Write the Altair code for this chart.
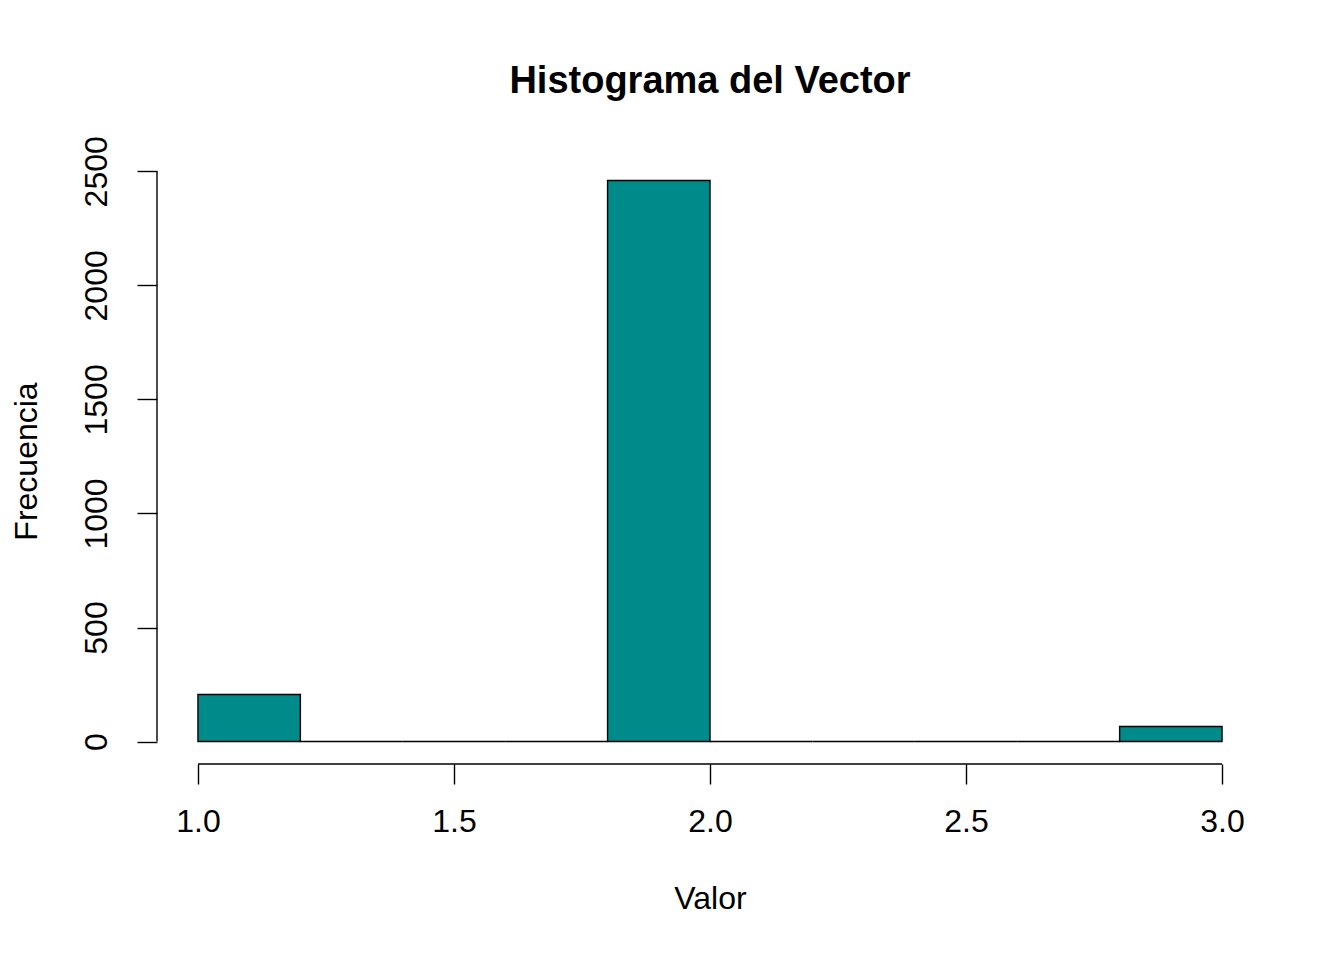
import altair as alt
import pandas as pd

# Histogram data
bin_start = [1.0, 1.2, 1.4, 1.6, 1.8, 2.0, 2.2, 2.4, 2.6, 2.8]
bin_end = [1.2, 1.4, 1.6, 1.8, 2.0, 2.2, 2.4, 2.6, 2.8, 3.0]
counts = [206, 0, 0, 0, 2460, 0, 0, 0, 0, 66]
x_ticks = [1.0, 1.5, 2.0, 2.5, 3.0]
y_ticks = [0, 500, 1000, 1500, 2000, 2500]

df = pd.DataFrame({"start": bin_start, "end": bin_end, "count": counts})

W, H = 1106, 606
FONT = "Liberation Sans"
LW = 1.4
FS = 32

xscale = alt.Scale(domain=[0.92, 3.08], nice=False, zero=False)
yscale = alt.Scale(domain=[-98.4, 2558.4], nice=False, zero=False)

x_axis = alt.Axis(
    values=x_ticks, format=".1f", title="Valor", domain=False, grid=False,
    tickSize=20, tickColor="black", tickWidth=LW,
    labelFontSize=FS, labelFont=FONT, labelColor="black", labelPadding=22,
    labelFlush=False, labelOverlap=False,
    titleFontSize=FS, titleFont=FONT, titleFontWeight="normal", titleColor="black",
    titlePadding=46,
)
y_axis = alt.Axis(
    values=y_ticks, format="d", title="Frecuencia", domain=False, grid=False,
    tickSize=20, tickColor="black", tickWidth=LW,
    labelFontSize=FS, labelFont=FONT, labelColor="black", labelPadding=24,
    labelAngle=270, labelAlign="center", labelBaseline="bottom",
    labelFlush=False, labelOverlap=False,
    titleFontSize=FS, titleFont=FONT, titleFontWeight="normal", titleColor="black",
    titlePadding=37,
)

bars = alt.Chart(df).mark_bar(
    color="#008B8B", stroke="black", strokeWidth=LW
).encode(
    x=alt.X("start:Q", scale=xscale, axis=x_axis),
    x2="end:Q",
    y=alt.Y("count:Q", scale=yscale, axis=y_axis),
    y2=alt.datum(0),
)

xline_df = pd.DataFrame({"a": [x_ticks[0]], "b": [x_ticks[-1]]})
yline_df = pd.DataFrame({"a": [y_ticks[0]], "b": [y_ticks[-1]]})

xline = alt.Chart(xline_df).mark_rule(color="black", strokeWidth=LW).encode(
    x=alt.X("a:Q", scale=xscale, axis=x_axis),
    x2="b:Q",
    y=alt.value(H),
)
yline = alt.Chart(yline_df).mark_rule(color="black", strokeWidth=LW).encode(
    y=alt.Y("a:Q", scale=yscale, axis=y_axis),
    y2="b:Q",
    x=alt.value(0),
)

chart = alt.layer(bars, xline, yline).properties(
    width=W, height=H,
    background="white",
    title=alt.TitleParams(
        "Histograma del Vector", font=FONT, fontSize=38, fontWeight="bold",
        color="black", anchor="middle", offset=35,
    ),
    autosize=alt.AutoSizeParams(type="none"),
    padding={"left": 149, "top": 150, "right": 60, "bottom": 170},
).configure_view(stroke=None, strokeWidth=0)

chart.save("out.html", embed_options={"renderer": "svg", "actions": False})
